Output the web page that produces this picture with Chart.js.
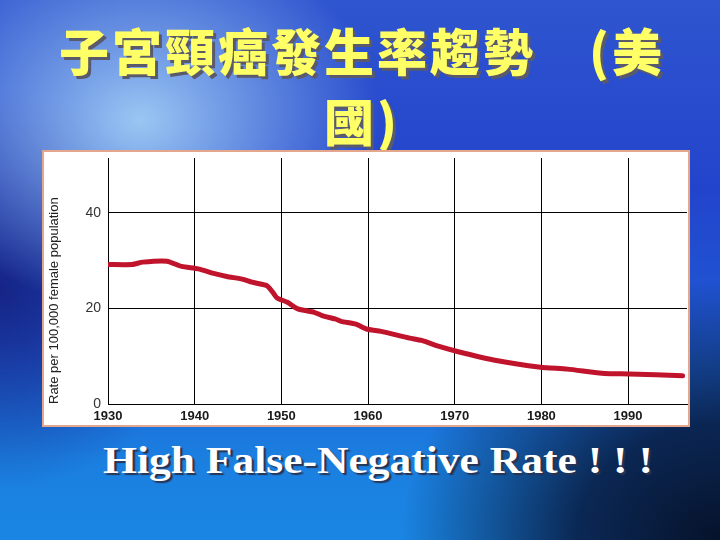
<!DOCTYPE html>
<html>
<head>
<meta charset="utf-8">
<script src="https://cdn.jsdelivr.net/npm/chart.js@4"></script>
<style>
  html, body { margin: 0; padding: 0; }
  body {
    width: 720px;
    height: 540px;
    position: relative;
    overflow: hidden;
    background:
      radial-gradient(ellipse 240px 190px at 140px 120px, rgba(160, 205, 245, 0.95), rgba(120, 170, 235, 0) 100%),
      radial-gradient(ellipse 320px 260px at 720px 540px, #06122a 0%, rgba(8, 24, 60, 0.85) 45%, rgba(10, 30, 80, 0) 100%),
      radial-gradient(ellipse 200px 200px at 0px 290px, rgba(20, 28, 120, 0.85), rgba(20, 28, 120, 0) 100%),
      linear-gradient(180deg, #2f55cf 0%, #2244cc 35%, #1f58d4 60%, #1b7fe0 85%, #1a86e4 100%);
  }
  #title {
    position: absolute;
    left: 0;
    top: 14px;
    width: 724px;
    text-align: center;
    font-family: "Noto Sans CJK TC", sans-serif;
    font-weight: 900;
    font-size: 50px;
    line-height: 70px;
    letter-spacing: 3px;
    color: #ffff66;
    text-shadow: 3px 3px 0 #5a5a6a;
  }
  #box {
    position: absolute;
    left: 42px;
    top: 150px;
    width: 644px;
    height: 273px;
    background: #fff;
    border: 2px solid #e4a68c;
  }
  #note {
    position: absolute;
    left: 0;
    top: 441px;
    width: 756px;
    text-align: center;
    font-family: "Liberation Serif", "Times New Roman", serif;
    font-weight: bold;
    font-size: 38px;
    line-height: 38px;
    color: #ffffff;
    text-shadow: 2px 2px 1px #2a3350;
    transform: scaleX(1.145);
    transform-origin: 378px 0;
  }
</style>
</head>
<body>
<div id="title">子宮頸癌發生率趨勢　(美<br>國)</div>
<div id="box"><canvas id="chart" width="644" height="273"></canvas></div>
<div id="note">High False-Negative Rate ! ! !</div>

<script>
const years = [1930, 1932.8, 1934, 1936.8, 1938.5, 1940.4, 1942.3, 1943.7, 1945.6, 1946.6, 1948.3, 1949, 1949.5, 1950.7, 1951.9, 1953.8, 1954.7, 1956.2, 1956.9, 1958.6, 1959.8, 1961.5, 1964.8, 1966.2, 1968.1, 1970.3, 1974.8, 1979.9, 1983, 1987.3, 1990.1, 1996.3];
const rates = [29.2, 29.2, 29.7, 29.9, 28.8, 28.3, 27.3, 26.7, 26.1, 25.5, 24.8, 23.4, 22.2, 21.3, 19.9, 19.2, 18.5, 17.8, 17.3, 16.7, 15.7, 15.2, 13.8, 13.3, 12.1, 11.0, 9.1, 7.7, 7.3, 6.4, 6.3, 5.9];
const xTicks = [1930, 1940, 1950, 1960, 1970, 1980, 1990];
const yTicks = [0, 20, 40];
const yTitle = "Rate per 100,000 female population";

const points = years.map((y, i) => ({ x: y, y: rates[i] }));

new Chart(document.getElementById("chart"), {
  type: "line",
  data: {
    datasets: [{
      data: points,
      borderColor: "#c0142c",
      borderWidth: 5,
      borderCapStyle: "round",
      borderJoinStyle: "round",
      pointRadius: 0,
      tension: 0.2
    }]
  },
  options: {
    responsive: false,
    animation: false,
    layout: {
      padding: { top: 6, right: 1, left: 0, bottom: 0 }
    },
    plugins: {
      legend: { display: false },
      tooltip: { enabled: false }
    },
    scales: {
      x: {
        type: "linear",
        min: 1930,
        max: 1996.8,
        afterBuildTicks: axis => {
          axis.ticks = xTicks.map(v => ({ value: v }));
        },
        afterFit: axis => {
          axis.height = 21;
        },
        grid: {
          color: "#000",
          lineWidth: 1,
          drawTicks: false
        },
        border: { color: "#000", width: 1 },
        ticks: {
          padding: 5,
          maxRotation: 0,
          color: "#1a1a1a",
          font: { family: "Liberation Sans, Arial, sans-serif", size: 13, weight: "bold" },
          callback: v => String(v)
        }
      },
      y: {
        min: 0,
        max: 51.5,
        afterBuildTicks: axis => {
          axis.ticks = yTicks.map(v => ({ value: v }));
        },
        afterFit: axis => {
          axis.width = 64;
          axis.paddingTop = 0;
        },
        grid: {
          color: "#000",
          lineWidth: 1,
          drawTicks: false
        },
        border: { color: "#000", width: 1 },
        ticks: {
          padding: 7,
          color: "#333",
          font: { family: "Liberation Sans, Arial, sans-serif", size: 14 }
        },
        title: {
          display: true,
          text: yTitle,
          align: "start",
          color: "#222",
          padding: { top: 3, bottom: 0 },
          font: { family: "Liberation Sans, Arial, sans-serif", size: 13 }
        }
      }
    }
  }
});
</script>
</body>
</html>
